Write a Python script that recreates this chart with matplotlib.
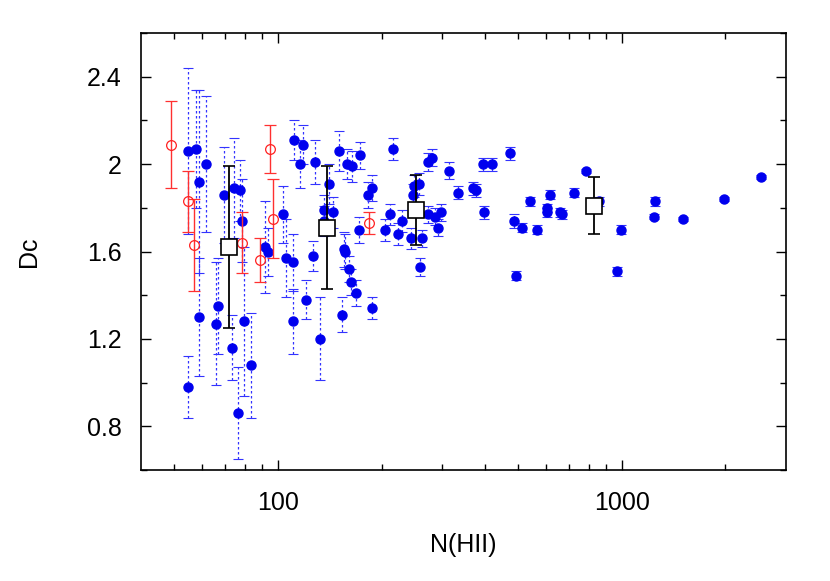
import matplotlib
matplotlib.use("Agg")
import matplotlib.pyplot as plt
from matplotlib.ticker import FixedLocator, NullFormatter, MultipleLocator
import numpy as np

# blue points: N(HII), Dc, error
blue_n = [54.8, 54.8, 57.9, 58.8, 58.8, 61.8, 65.9, 66.8, 69.7, 73.7,
          74.6, 76.5, 77.6, 78.8, 79.8, 83.6, 91.5, 93.5, 103.2, 105.5,
          110.3, 110.8, 111.5, 116.1, 118.2, 120.6, 126.1, 128, 132.4, 136,
          136, 141, 144.8, 150.1, 153.7, 155.5, 156.5, 158.7, 160.8, 163.6,
          164.4, 168.9, 172, 172.8, 183.3, 187.6, 188, 204.6, 212, 216,
          223, 229.9, 244, 247.2, 248.3, 257.5, 259, 261.6, 272.5, 273.4,
          279.8, 286.7, 291.7, 297, 313.7, 334.7, 368.5, 376.7, 395.5, 397.5,
          418.4, 472, 486.6, 492, 511.3, 540, 568, 606, 606, 617,
          660, 670, 724, 786, 860, 966, 993, 1243, 1252, 1503,
          1986, 2544]
blue_dc = [2.06, 0.98, 2.07, 1.92, 1.30, 2.00, 1.27, 1.35, 1.86, 1.16,
           1.89, 0.86, 1.88, 1.74, 1.28, 1.08, 1.62, 1.60, 1.77, 1.57,
           1.55, 1.28, 2.11, 2.00, 2.09, 1.38, 1.58, 2.01, 1.20, 1.79,
           1.74, 1.91, 1.78, 2.06, 1.31, 1.61, 1.60, 2.00, 1.52, 1.46,
           1.99, 1.41, 1.70, 2.04, 1.86, 1.34, 1.89, 1.70, 1.77, 2.07,
           1.68, 1.74, 1.66, 1.86, 1.90, 1.91, 1.53, 1.66, 1.77, 2.01,
           2.03, 1.76, 1.71, 1.78, 1.97, 1.87, 1.89, 1.88, 2.00, 1.78,
           2.00, 2.05, 1.74, 1.49, 1.71, 1.83, 1.70, 1.80, 1.78, 1.86,
           1.78, 1.77, 1.87, 1.97, 1.83, 1.51, 1.70, 1.76, 1.83, 1.75,
           1.84, 1.94]
blue_err = [0.38, 0.14, 0.27, 0.42, 0.27, 0.31, 0.28, 0.22, 0.22, 0.15,
            0.23, 0.21, 0.14, 0.19, 0.34, 0.24, 0.21, 0.11, 0.13, 0.18,
            0.13, 0.15, 0.09, 0.11, 0.09, 0.09, 0.07, 0.10, 0.19, 0.07,
            0.07, 0.09, 0.07, 0.09, 0.08, 0.08, 0.08, 0.07, 0.06, 0.06,
            0.07, 0.06, 0.06, 0.06, 0.06, 0.05, 0.06, 0.05, 0.05, 0.05,
            0.05, 0.05, 0.05, 0.05, 0.05, 0.05, 0.04, 0.04, 0.04, 0.04,
            0.04, 0.04, 0.04, 0.04, 0.04, 0.03, 0.03, 0.03, 0.03, 0.03,
            0.03, 0.03, 0.03, 0.02, 0.02, 0.02, 0.02, 0.02, 0.02, 0.02,
            0.02, 0.02, 0.02, 0.01, 0.02, 0.02, 0.02, 0.01, 0.02, 0.01,
            0.01, 0.01]

# red open circles
red_n = [48.9, 54.8, 56.9, 78.8, 88.5, 94.6, 96.5, 184.3]
red_dc = [2.09, 1.83, 1.63, 1.64, 1.56, 2.07, 1.75, 1.73]
red_err = [0.20, 0.14, 0.21, 0.14, 0.10, 0.11, 0.18, 0.05]

# binned means (black squares)
bin_n = [72, 139, 252.4, 831]
bin_dc = [1.62, 1.71, 1.79, 1.81]
bin_err = [0.37, 0.28, 0.16, 0.13]

plt.rcParams['font.family'] = ['Liberation Sans', 'DejaVu Sans']

fig = plt.figure(figsize=(8.3, 5.81), dpi=100)
ax = fig.add_axes([0.170, 0.191, 0.777, 0.752])

eb = ax.errorbar(blue_n, blue_dc, yerr=blue_err, fmt='o', color='#0000ee',
                 ms=6.5, ecolor='#3333ff', elinewidth=0.9, capsize=3.5,
                 capthick=0.8, zorder=2)
eb[2][0].set_linestyle((0, (2, 2)))
for cl in eb[1]:
    cl.set_color('#8080ff')

ax.errorbar(red_n, red_dc, yerr=red_err, fmt='o', mfc='none', mec='#ff2020',
            ms=7, mew=0.9, ecolor='#ff3030', elinewidth=1, capsize=4,
            capthick=1, zorder=3)

ax.errorbar(bin_n, bin_dc, yerr=bin_err, fmt='s', mfc='white', mec='black',
            ms=11, mew=1.2, ecolor='black', elinewidth=1.3, capsize=4,
            capthick=1.3, zorder=4)

ax.set_xscale('log')
ax.set_xlim(40, 3000)
ax.set_ylim(0.6, 2.6)

ax.xaxis.set_major_locator(FixedLocator([100, 1000]))
ax.xaxis.set_minor_locator(FixedLocator([50, 60, 70, 80, 90, 200, 300, 400,
                                         500, 600, 700, 800, 900, 2000]))
ax.xaxis.set_minor_formatter(NullFormatter())
ax.set_xticklabels(['100', '1000'])
ax.set_yticks([0.8, 1.2, 1.6, 2.0, 2.4])
ax.set_yticklabels(['0.8', '1.2', '1.6', '2', '2.4'])
ax.yaxis.set_minor_locator(MultipleLocator(0.2))

ax.tick_params(which='both', direction='in', top=True, right=True,
               labelsize=18, width=1)
ax.tick_params(axis='x', which='both', pad=15)
ax.tick_params(axis='y', which='both', pad=14)
ax.tick_params(which='major', length=7)
ax.tick_params(which='minor', length=4)
for s in ax.spines.values():
    s.set_linewidth(1.2)

ax.set_xlabel('N(HII)', fontsize=18)
ax.set_ylabel('Dc', fontsize=18)
ax.xaxis.set_label_coords(0.5, -0.145)
ax.yaxis.set_label_coords(-0.155, 0.5)

fig.savefig('out.png', dpi=100)
